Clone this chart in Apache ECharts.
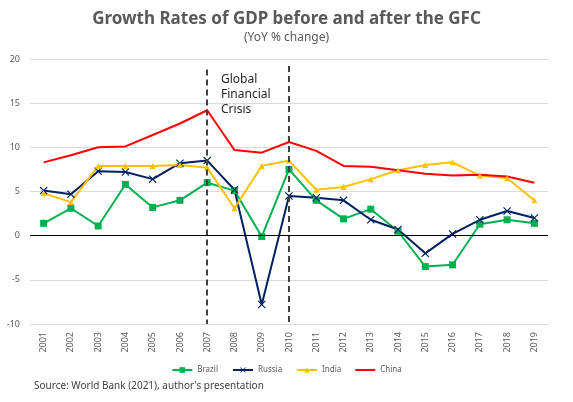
<!DOCTYPE html>
<html>
<head>
<meta charset="utf-8">
<script src="https://cdn.jsdelivr.net/npm/echarts@6/dist/echarts.min.js"></script>
<style>
  html, body { margin: 0; padding: 0; background: #fff; }
  #chart { width: 573px; height: 402px; }
</style>
</head>
<body>
<div id="chart"></div>
<script>
var years = ['2001', '2002', '2003', '2004', '2005', '2006', '2007', '2008', '2009', '2010',
    '2011', '2012', '2013', '2014', '2015', '2016', '2017', '2018', '2019'];

var brazil = [1.4, 3.1, 1.1, 5.8, 3.2, 4.0, 6.0, 5.1, -0.1, 7.5, 4.0, 1.9, 3.0, 0.5, -3.5, -3.3, 1.3, 1.8, 1.4];
var russia = [5.1, 4.7, 7.3, 7.2, 6.4, 8.2, 8.5, 5.2, -7.8, 4.5, 4.3, 4.0, 1.8, 0.7, -2.0, 0.2, 1.8, 2.8, 2.0];
var india = [4.8, 3.8, 7.9, 7.9, 7.9, 8.0, 7.7, 3.1, 7.9, 8.5, 5.2, 5.5, 6.4, 7.4, 8.0, 8.3, 6.8, 6.5, 4.0];
var china = [8.3, 9.1, 10.0, 10.1, 11.4, 12.7, 14.2, 9.7, 9.4, 10.6, 9.6, 7.9, 7.8, 7.4, 7.0, 6.8, 6.9, 6.7, 6.0];

// years marking the crisis window
var crisisStart = '2007';
var crisisEnd = '2010';

var xMark = 'path://M0,1L1,0L5,4L9,0L10,1L6,5L10,9L9,10L5,6L1,10L0,9L4,5Z';
var plainLine = 'path://M0,0L20,0L20,2L0,2Z';

var chart = echarts.init(document.getElementById('chart'));

chart.setOption({
    animation: false,
    textStyle: { fontFamily: 'Noto Sans, sans-serif' },
    title: [{
        text: 'Growth Rates of GDP before and after the GFC',
        left: 'center',
        top: 6,
        textStyle: { fontSize: 17, fontWeight: 'bold', color: '#595959', fontFamily: 'Noto Sans' }
    }, {
        text: '(YoY % change)',
        left: 'center',
        top: 27,
        textStyle: { fontSize: 12, fontWeight: 'normal', color: '#595959', fontFamily: 'Noto Sans' }
    }, {
        text: 'Source: World Bank (2021), author\'s presentation',
        left: 29,
        top: 376,
        textStyle: { fontSize: 10, fontWeight: 'normal', color: '#404040', fontFamily: 'Noto Sans' }
    }],
    legend: {
        top: 361,
        left: 'center',
        itemWidth: 20,
        itemHeight: 7,
        itemGap: 14,
        textStyle: { fontSize: 8, color: '#595959' },
        data: ['Brazil', 'Russia', 'India', { name: 'China', icon: plainLine }]
    },
    graphic: [{
        type: 'text',
        left: 221,
        top: 72,
        style: {
            text: 'Global\nFinancial\nCrisis',
            fontSize: 12,
            lineHeight: 15,
            fill: '#262626',
            fontFamily: 'Noto Sans'
        }
    }],
    grid: { left: 30, right: 25, top: 59, bottom: 78 },
    xAxis: {
        type: 'category',
        data: years,
        boundaryGap: true,
        axisLine: { show: false },
        axisTick: { show: false },
        axisLabel: { rotate: 90, fontSize: 9, color: '#595959', margin: 8 }
    },
    yAxis: {
        type: 'value',
        min: -10,
        max: 20,
        interval: 5,
        axisLine: { show: false },
        axisTick: { show: false },
        axisLabel: { fontSize: 9, color: '#595959', margin: 10 },
        splitLine: { lineStyle: { color: '#d9d9d9', width: 1 } }
    },
    series: [{
        name: 'Brazil',
        type: 'line',
        data: brazil,
        symbol: 'rect',
        symbolSize: 7,
        color: '#00b050',
        lineStyle: { width: 2 },
        markLine: {
            silent: true,
            symbol: 'none',
            label: { show: false },
            data: [
                [{ coord: [crisisStart, 18.8], lineStyle: { color: '#404040', type: [6, 4], width: 2 } },
                    { coord: [crisisStart, -10] }],
                [{ coord: [crisisEnd, 19.2], lineStyle: { color: '#404040', type: [6, 4], width: 2 } },
                    { coord: [crisisEnd, -10] }],
                [{ coord: ['2001', 0], x: 30, lineStyle: { color: '#000', type: 'solid', width: 1 } },
                    { coord: ['2019', 0], x: 548 }]
            ]
        }
    }, {
        name: 'Russia',
        type: 'line',
        data: russia,
        symbol: xMark,
        symbolSize: 8,
        color: '#002060',
        lineStyle: { width: 2 }
    }, {
        name: 'India',
        type: 'line',
        data: india,
        symbol: 'triangle',
        symbolSize: 6,
        color: '#ffc000',
        lineStyle: { width: 2 }
    }, {
        name: 'China',
        type: 'line',
        data: china,
        showSymbol: false,
        symbol: 'none',
        color: '#ff0000',
        lineStyle: { width: 2 }
    }]
});
</script>
</body>
</html>
